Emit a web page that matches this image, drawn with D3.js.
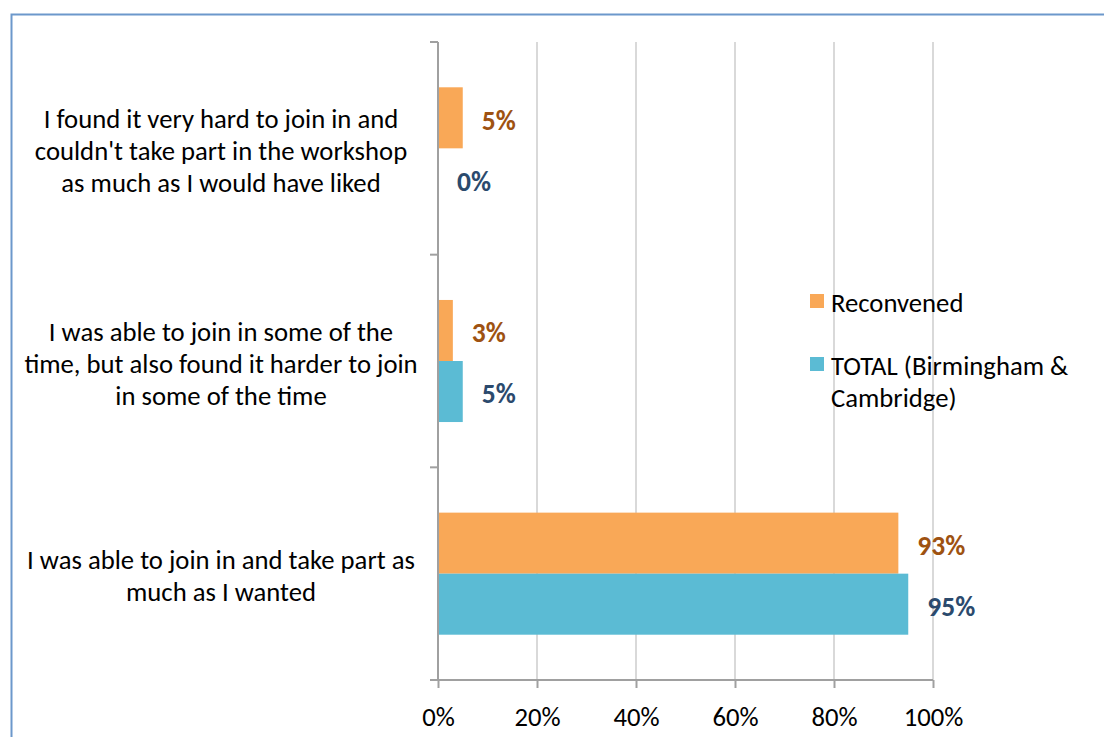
<!DOCTYPE html>
<html>
<head>
<meta charset="utf-8">
<script src="https://cdn.jsdelivr.net/npm/d3@7"></script>
<style>
  body { margin: 0; background: #fff; }
  svg text { font-family: Carlito, Calibri, "Open Sans", sans-serif; }
  .cat { font-size: 26.7px; fill: #000; }
  .tick text { font-size: 26.7px; fill: #000; }
  .value { font-size: 27.5px; font-weight: bold; }
  .legend text { font-size: 26.7px; fill: #000; }
</style>
</head>
<body>
<svg id="chart" width="1104" height="737"></svg>
<script>
// categories, top to bottom
var categories = [
  ["I found it very hard to join in and", "couldn't take part in the workshop", "as much as I would have liked"],
  ["I was able to join in some of the", "time, but also found it harder to join", "in some of the time"],
  ["I was able to join in and take part as", "much as I wanted"]
];
var seriesNames = ["Reconvened", "TOTAL (Birmingham & Cambridge)"];
var reconvened = [5, 3, 93];
var total = [0, 5, 95];
var tickValues = [0, 20, 40, 60, 80, 100];

var colors = ["#f9a857", "#5bbbd4"];
var labelColors = ["#9e5211", "#2b4a6d"];

var svg = d3.select("#chart"),
  margin = { top: 42, left: 438, right: 171, bottom: 57 },
  width = 1104 - margin.left - margin.right,
  height = 737 - margin.top - margin.bottom,
  g = svg.append("g").attr("transform", "translate(" + margin.left + "," + margin.top + ")");

// outer frame of the chart area
svg.append("rect")
  .attr("x", 11.5).attr("y", 14.5)
  .attr("width", 1200).attr("height", 800)
  .attr("fill", "none")
  .attr("stroke", "#6c98cb")
  .attr("stroke-width", 2);

var rows = categories.map(function (c, i) {
  return { idx: i, lines: c, values: [reconvened[i], total[i]] };
});

var xScale = d3.scaleLinear().domain([0, 100]).range([0, width]);
var yScale = d3.scaleBand().domain(d3.range(categories.length)).range([0, height])
  .paddingInner(0).paddingOuter(0);
var bandPad = 0.213;
var sub = d3.scaleBand().domain([0, 1])
  .range([yScale.bandwidth() * bandPad, yScale.bandwidth() * (1 - bandPad)]);

// vertical gridlines
g.selectAll(".grid")
  .data(tickValues.slice(1))
  .enter().append("line")
  .attr("class", "grid")
  .attr("x1", function (d) { return xScale(d); })
  .attr("x2", function (d) { return xScale(d); })
  .attr("y1", 0).attr("y2", height)
  .attr("stroke", "#d9d9d9")
  .attr("stroke-width", 2);

// bars
var rowG = g.selectAll(".row")
  .data(rows)
  .enter().append("g")
  .attr("class", "row")
  .attr("transform", function (d) { return "translate(0," + yScale(d.idx) + ")"; });

rowG.selectAll(".bar")
  .data(function (d) { return d.values; })
  .enter().append("rect")
  .attr("class", "bar")
  .attr("x", 0)
  .attr("y", function (d, i) { return sub(i); })
  .attr("width", function (d) { return xScale(d); })
  .attr("height", sub.bandwidth())
  .attr("fill", function (d, i) { return colors[i]; });

rowG.selectAll(".value")
  .data(function (d) { return d.values; })
  .enter().append("text")
  .attr("class", "value")
  .attr("x", function (d) { return xScale(d) + 19; })
  .attr("y", function (d, i) { return sub(i) + sub.bandwidth() / 2 + 3; })
  .attr("dy", "0.32em")
  .attr("fill", function (d, i) { return labelColors[i]; })
  .text(function (d) { return d + "%"; });

// category labels
rowG.append("text")
  .attr("class", "cat")
  .attr("text-anchor", "middle")
  .attr("x", 221 - margin.left)
  .attr("y", function (d) { return yScale.bandwidth() / 2 + 3 - (d.lines.length - 1) * 16; })
  .selectAll("tspan")
  .data(function (d) { return d.lines; })
  .enter().append("tspan")
  .attr("x", 221 - margin.left)
  .attr("dy", function (d, i) { return i === 0 ? "0.32em" : 32; })
  .text(function (d) { return d; });

// y axis with ticks at category boundaries
g.append("line")
  .attr("x1", 0).attr("x2", 0).attr("y1", 0).attr("y2", height)
  .attr("stroke", "#a0a0a0").attr("stroke-width", 2);
g.selectAll(".ytick")
  .data(d3.range(categories.length + 1))
  .enter().append("line")
  .attr("class", "ytick")
  .attr("x1", -8).attr("x2", 0)
  .attr("y1", function (d) { return d * yScale.step(); })
  .attr("y2", function (d) { return d * yScale.step(); })
  .attr("stroke", "#a0a0a0").attr("stroke-width", 2);

// x axis
var xAxis = d3.axisBottom(xScale)
  .tickValues(tickValues)
  .tickSize(8)
  .tickPadding(19)
  .tickFormat(function (d) { return d + "%"; });
var ax = g.append("g")
  .attr("class", "axis")
  .attr("transform", "translate(0," + height + ")")
  .call(xAxis);
ax.select(".domain").attr("stroke", "#a0a0a0").attr("stroke-width", 2)
  .attr("d", "M-8,0H" + width);
ax.selectAll(".tick line").attr("stroke", "#a0a0a0").attr("stroke-width", 2);
ax.selectAll(".tick text").attr("font-family", null);

// legend
var legend = svg.append("g").attr("class", "legend");
var legendY = [301, 364];
var legendLines = [["Reconvened"], ["TOTAL (Birmingham &", "Cambridge)"]];
legend.selectAll("rect")
  .data(seriesNames)
  .enter().append("rect")
  .attr("x", 810)
  .attr("y", function (d, i) { return legendY[i] - 7; })
  .attr("width", 14).attr("height", 14)
  .attr("fill", function (d, i) { return colors[i]; });
legend.selectAll("text")
  .data(legendLines)
  .enter().append("text")
  .attr("x", 831)
  .attr("y", function (d, i) { return legendY[i] + 2; })
  .selectAll("tspan")
  .data(function (d) { return d; })
  .enter().append("tspan")
  .attr("x", 831)
  .attr("dy", function (d, i) { return i === 0 ? "0.32em" : 32; })
  .text(function (d) { return d; });
</script>
</body>
</html>
